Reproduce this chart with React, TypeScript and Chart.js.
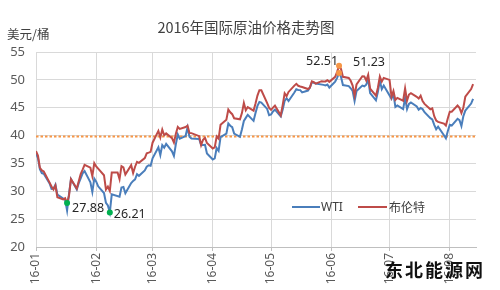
import React, { useEffect, useRef } from "react";
import { Chart, registerables } from "chart.js";

Chart.register(...registerables);

// ---------- data ----------
const dates = [
  "01-04","01-05","01-06","01-07","01-08","01-11","01-12","01-13","01-14","01-15","01-18","01-19","01-20","01-21","01-22","01-25","01-26","01-27","01-28","01-29",
  "02-01","02-02","02-03","02-04","02-05","02-08","02-09","02-10","02-11","02-12","02-15","02-16","02-17","02-18","02-19","02-22","02-23","02-24","02-25","02-26","02-29",
  "03-01","03-02","03-03","03-04","03-07","03-08","03-09","03-10","03-11","03-14","03-15","03-16","03-17","03-18","03-21","03-22","03-23","03-24","03-28","03-29","03-30","03-31",
  "04-01","04-04","04-05","04-06","04-07","04-08","04-11","04-12","04-13","04-14","04-15","04-18","04-19","04-20","04-21","04-22","04-25","04-26","04-27","04-28","04-29",
  "05-02","05-03","05-04","05-05","05-06","05-09","05-10","05-11","05-12","05-13","05-16","05-17","05-18","05-19","05-20","05-23","05-24","05-25","05-26","05-27","05-30","05-31",
  "06-01","06-02","06-03","06-06","06-07","06-08","06-09","06-10","06-13","06-14","06-15","06-16","06-17","06-20","06-21","06-22","06-23","06-24","06-27","06-28","06-29","06-30",
  "07-01","07-04","07-05","07-06","07-07","07-08","07-11","07-12","07-13","07-14","07-15","07-18","07-19","07-20","07-21","07-22","07-25","07-26","07-27","07-28","07-29",
  "08-01","08-02","08-03","08-04","08-05","08-08","08-09","08-10","08-11","08-12","08-15","08-16",
];

const wti: (number | null)[] = [
  36.76,35.97,33.97,33.27,33.16,31.41,30.44,30.48,31.20,29.42,null,28.46,26.55,29.53,32.19,30.34,31.45,32.30,33.22,33.62,
  31.62,29.88,32.28,31.72,30.89,29.69,27.94,27.45,26.21,29.44,null,29.04,30.66,30.77,29.64,31.48,31.87,32.15,33.07,32.78,33.75,
  34.40,34.66,34.57,35.92,37.90,36.50,38.29,37.84,38.50,37.18,36.34,38.46,40.20,39.44,39.91,41.45,39.79,39.46,39.39,38.28,38.32,38.34,
  36.79,35.70,35.89,37.75,37.26,39.72,40.36,42.17,41.76,41.50,40.36,39.78,41.08,42.63,43.18,43.73,42.64,44.04,45.33,46.03,45.92,
  44.78,43.65,43.78,44.32,44.66,43.44,44.66,46.23,46.70,46.21,47.72,48.31,48.19,48.16,47.75,48.08,48.62,49.56,49.48,49.33,null,49.10,
  49.01,49.17,48.62,49.69,50.36,51.23,50.56,49.07,48.88,48.49,48.01,46.21,47.98,48.98,48.85,49.13,50.11,47.64,46.33,47.85,49.88,48.33,
  48.99,null,46.60,47.43,45.14,45.41,44.76,46.80,44.75,45.68,45.95,45.24,44.65,44.94,44.75,44.19,43.13,42.92,41.92,41.14,41.60,
  40.06,39.51,40.83,41.93,41.80,43.02,42.77,41.71,43.49,44.49,45.74,46.58,
];

const brent: (number | null)[] = [
  37.22,36.42,34.23,33.75,33.55,31.55,30.86,30.31,31.03,28.94,28.55,28.76,27.88,29.25,32.18,30.50,31.80,33.10,33.89,34.74,
  34.24,32.72,35.04,34.46,34.06,32.88,30.32,30.84,30.06,33.36,33.39,32.18,34.50,34.28,33.01,34.69,33.27,34.41,35.29,35.10,35.97,
  36.81,36.93,37.07,38.72,40.84,39.65,41.07,40.05,40.39,39.53,38.74,40.33,41.54,41.20,41.54,41.79,40.47,40.44,39.90,38.29,39.26,39.60,
  38.67,37.69,37.87,39.84,39.43,41.94,42.83,44.69,44.18,43.84,43.10,42.91,44.03,45.84,44.53,45.11,44.48,45.74,47.18,48.14,48.13,
  45.83,44.97,44.62,45.01,45.37,43.63,45.52,47.59,47.08,47.83,48.97,49.28,48.93,48.81,48.72,48.35,48.61,49.74,49.59,49.32,49.76,49.69,
  49.72,49.95,49.64,50.55,51.44,52.51,51.95,50.54,50.35,49.83,48.97,47.19,49.17,50.65,50.62,49.88,50.91,48.41,47.16,48.58,50.61,49.68,
  50.35,49.99,46.97,47.99,46.40,46.76,46.25,48.47,46.26,47.37,47.61,46.96,46.66,47.17,46.20,45.69,44.72,44.87,43.47,42.70,42.46,
  42.14,41.80,43.10,44.29,44.27,45.39,44.98,44.05,45.04,46.97,48.35,49.23,
];

const seriesNames = ["WTI", "布伦特"];
const monthTickDates = ["01-04","02-04","03-04","04-04","05-04","06-04","07-04","08-04"];
const monthLabels = ["16-01","16-02","16-03","16-04","16-05","16-06","16-07","16-08"];
const yMin = 20;
const yMax = 55;
const yStep = 5;
const refLevel = 40;
const brentLowDate = "01-20";
const wtiLowDate = "02-11";
const peakDate = "06-08";
const titleText = "2016年国际原油价格走势图";
const unitText = "美元/桶";
const watermarkText = "东北能源网";

// ---------- helpers ----------
function dayOffset(md: string): number {
  const [m, d] = md.split("-").map(Number);
  return (Date.UTC(2016, m - 1, d) - Date.UTC(2016, 0, 4)) / 86400000;
}

const BLUE = "#4A7EBB";
const RED = "#BE4B48";
const ORANGE = "#F79646";
const GREEN = "#00B050";
const NUM_FONT = '"Noto Sans", "Noto Sans CJK SC", sans-serif';
const CJK_FONT = '"Noto Sans CJK SC", "Noto Sans", sans-serif';

const overlayPlugin = {
  id: "overlay",
  beforeDatasetsDraw(chart: any) {
    const { ctx, chartArea, scales } = chart;
    const y = Math.round(scales.y.getPixelForValue(refLevel)) + 0.5;
    ctx.save();
    ctx.strokeStyle = ORANGE;
    ctx.lineWidth = 2;
    ctx.setLineDash([2.5, 2]);
    ctx.beginPath();
    ctx.moveTo(chartArea.left, y);
    ctx.lineTo(chartArea.right, y);
    ctx.stroke();
    ctx.restore();
  },
  afterDatasetsDraw(chart: any) {
    const { ctx, scales } = chart;
    const marks = [
      { ds: 1, date: brentLowDate, color: GREEN, dx: 5, dy: 5, align: "left" },
      { ds: 0, date: wtiLowDate, color: GREEN, dx: 4, dy: 2, align: "left" },
      { ds: 0, date: peakDate, color: ORANGE, dx: 14, dy: -11, align: "left" },
      { ds: 1, date: peakDate, color: ORANGE, dx: -1, dy: -4, align: "right" },
    ];
    ctx.save();
    for (const m of marks) {
      const idx = dates.indexOf(m.date);
      const v = chart.data.datasets[m.ds].data[idx].y as number;
      const px = scales.x.getPixelForValue(dayOffset(m.date));
      const py = scales.y.getPixelForValue(v);
      ctx.fillStyle = m.color;
      ctx.beginPath();
      ctx.arc(px, py, 3, 0, Math.PI * 2);
      ctx.fill();
      ctx.fillStyle = "#262626";
      ctx.font = `12.5px ${NUM_FONT}`;
      ctx.textAlign = m.align;
      ctx.textBaseline = "middle";
      ctx.fillText(v.toFixed(2), px + m.dx, py + m.dy);
    }
    ctx.restore();
  },
};

export default function App() {
  const canvasRef = useRef<HTMLCanvasElement | null>(null);

  useEffect(() => {
    const canvas = canvasRef.current;
    if (!canvas) return;
    const toPoints = (arr: (number | null)[]) =>
      dates.map((d, i) => ({ x: dayOffset(d), y: arr[i] }));

    const chart = new Chart(canvas, {
      type: "line",
      data: {
        datasets: [
          {
            label: seriesNames[0],
            data: toPoints(wti) as any,
            borderColor: BLUE,
            backgroundColor: BLUE,
            borderWidth: 2,
            pointRadius: 0,
            tension: 0,
            spanGaps: true,
            order: 2,
          },
          {
            label: seriesNames[1],
            data: toPoints(brent) as any,
            borderColor: RED,
            backgroundColor: RED,
            borderWidth: 2,
            pointRadius: 0,
            tension: 0,
            spanGaps: true,
            order: 1,
          },
        ],
      },
      options: {
        animation: false,
        responsive: true,
        maintainAspectRatio: false,
        layout: {
          padding: { top: 52, right: 24, left: 0, bottom: 0 },
          autoPadding: false,
        } as any,
        plugins: {
          legend: { display: false },
          tooltip: { enabled: false },
          title: { display: false },
        },
        scales: {
          x: {
            type: "linear",
            min: 0,
            max: dayOffset("08-16") + 1.5,
            afterFit: (scale: any) => {
              scale.height = 43;
            },
            afterBuildTicks: (scale: any) => {
              scale.ticks = monthTickDates.map((d) => ({ value: dayOffset(d) }));
            },
            grid: {
              color: "#D9D9D9",
              lineWidth: 1,
              drawTicks: true,
              tickLength: 4,
              tickColor: "#BFBFBF",
            },
            border: { display: true, color: "#BFBFBF", width: 1 },
            ticks: {
              autoSkip: false,
              minRotation: 90,
              maxRotation: 90,
              padding: 2,
              color: "#595959",
              font: { family: NUM_FONT, size: 12 },
              callback: (_v: any, i: number) => monthLabels[i],
            },
          },
          y: {
            min: yMin,
            max: yMax,
            afterFit: (scale: any) => {
              scale.width = 36;
            },
            grid: { color: "#D9D9D9", lineWidth: 1, drawTicks: false },
            border: { display: false },
            ticks: {
              stepSize: yStep,
              padding: 11,
              color: "#595959",
              font: { family: NUM_FONT, size: 13 },
            },
          },
        },
      },
      plugins: [overlayPlugin],
    });
    return () => chart.destroy();
  }, []);

  const abs = (s: React.CSSProperties): React.CSSProperties => ({
    position: "absolute",
    whiteSpace: "nowrap",
    ...s,
  });

  return (
    <div style={{ position: "absolute", left: 0, top: 0, width: 500, height: 290, background: "#fff" }}>
      <canvas ref={canvasRef} width={500} height={290} />
      <div style={abs({ left: 0, width: 492, top: 17, textAlign: "center", fontFamily: CJK_FONT, fontSize: 14.5, lineHeight: "20px", color: "#404040" })}>
        {titleText}
      </div>
      <div style={abs({ left: 7, top: 25, fontFamily: CJK_FONT, fontSize: 12.5, lineHeight: "18px", color: "#404040" })}>
        {unitText}
      </div>
      {/* legend */}
      <div style={abs({ left: 292, top: 206, width: 28, height: 2, background: BLUE })} />
      <div style={abs({ left: 321, top: 199, fontFamily: NUM_FONT, fontSize: 12, lineHeight: "16px", color: "#404040" })}>
        {seriesNames[0]}
      </div>
      <div style={abs({ left: 358, top: 206, width: 29, height: 2, background: RED })} />
      <div style={abs({ left: 389, top: 198, fontFamily: CJK_FONT, fontSize: 12, lineHeight: "18px", color: "#404040" })}>
        {seriesNames[1]}
      </div>
      <div style={abs({ left: 385, top: 258, fontFamily: CJK_FONT, fontSize: 18, fontWeight: 700, letterSpacing: 2, lineHeight: "22px", color: "#111" })}>
        {watermarkText}
      </div>
    </div>
  );
}
